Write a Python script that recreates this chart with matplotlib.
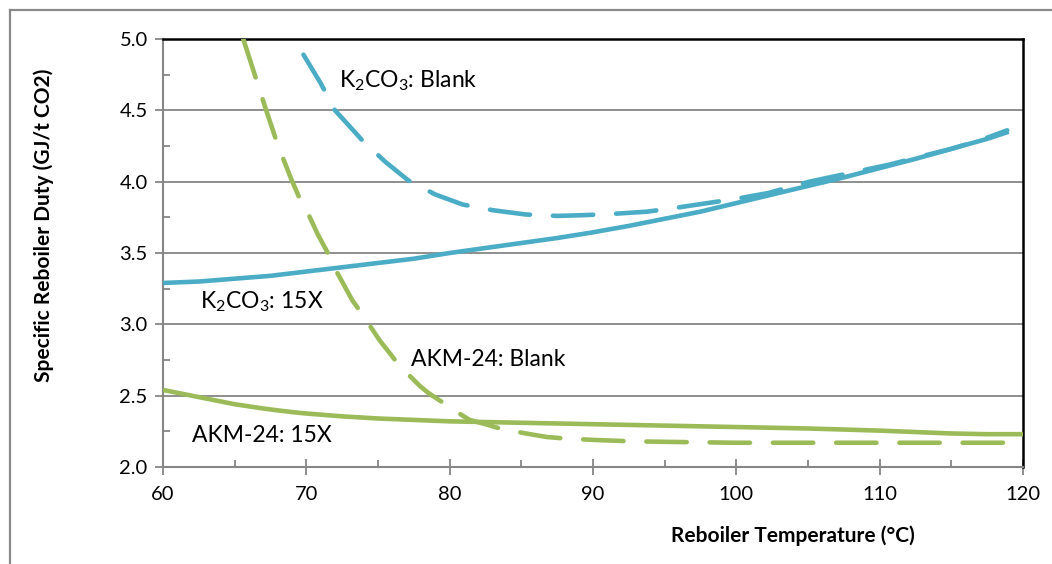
import numpy as np
import matplotlib
matplotlib.use('Agg')
import matplotlib.pyplot as plt
from matplotlib.lines import Line2D

plt.rcParams['font.family'] = ['Lato', 'DejaVu Sans']
plt.rcParams['mathtext.fontset'] = 'custom'
plt.rcParams['mathtext.rm'] = 'Lato'
plt.rcParams['mathtext.it'] = 'Lato:italic'
plt.rcParams['mathtext.bf'] = 'Lato:bold'

# Data
k2co3_15x_t = [60, 62.5, 65, 67.5, 70, 72.5, 75, 77.5, 80, 82.5, 85, 87.5, 90, 92.5, 95, 97.5, 100, 102.5, 105, 107.5, 110, 112.5, 115, 117.5, 119]
k2co3_15x_q = [3.29, 3.30, 3.32, 3.34, 3.37, 3.40, 3.43, 3.46, 3.50, 3.535, 3.57, 3.605, 3.645, 3.69, 3.74, 3.79, 3.85, 3.91, 3.97, 4.03, 4.095, 4.16, 4.23, 4.30, 4.35]

k2co3_blank_t = [69.8, 71.0, 72.0, 73.0, 73.9, 75.5, 77.1, 79.0, 80.9, 83.0, 85.3, 87.5, 89.3, 91.5, 93.8, 96.0, 98.0, 100.0, 102.2, 105.1, 107.9, 110.7, 113.0, 115.0, 117.0, 118.9]
k2co3_blank_q = [4.89, 4.69, 4.50, 4.39, 4.29, 4.14, 4.01, 3.91, 3.84, 3.80, 3.77, 3.76, 3.765, 3.775, 3.79, 3.82, 3.85, 3.88, 3.92, 4.00, 4.06, 4.12, 4.18, 4.23, 4.29, 4.36]

akm_15x_t = [60, 61, 62, 63, 64, 65, 66, 67, 68, 69, 70, 72.5, 75, 77.5, 80, 85, 90, 95, 100, 105, 110, 112.5, 115, 117.5, 120]
akm_15x_q = [2.54, 2.52, 2.50, 2.48, 2.46, 2.44, 2.425, 2.41, 2.397, 2.385, 2.375, 2.355, 2.34, 2.33, 2.32, 2.31, 2.30, 2.29, 2.28, 2.27, 2.255, 2.245, 2.235, 2.23, 2.23]

akm_blank_t = [65.6, 66.4, 67.2, 68.0, 68.9, 69.5, 70.2, 70.8, 71.5, 72.0, 72.6, 73.2, 73.9, 74.5, 75.1, 75.8, 76.5, 77.2, 77.9, 78.5, 79.1, 79.7, 80.3, 80.9, 81.4, 82.5, 83.5, 84.5, 85.6, 86.8, 88.0, 90.0, 92.7, 96.0, 100, 110, 120]
akm_blank_q = [5.00, 4.75, 4.50, 4.26, 4.03, 3.89, 3.76, 3.63, 3.50, 3.39, 3.28, 3.17, 3.07, 2.98, 2.89, 2.80, 2.71, 2.64, 2.57, 2.52, 2.48, 2.44, 2.40, 2.36, 2.33, 2.30, 2.27, 2.25, 2.23, 2.21, 2.20, 2.19, 2.18, 2.175, 2.17, 2.17, 2.17]

blue = '#4BACC6'
green = '#9BBB59'
grid_gray = '#868686'

fig = plt.figure(figsize=(10.52, 5.64), dpi=100)
ax = fig.add_axes([163/1052, 1 - 467/564, 860/1052, 428/564])

lw = 3.3
dash = (0, (8.8, 5.0))
ax.plot(k2co3_15x_t, k2co3_15x_q, color=blue, lw=lw, solid_capstyle='butt', solid_joinstyle='round', zorder=3)
ax.plot(k2co3_blank_t, k2co3_blank_q, color=blue, lw=lw, linestyle=dash, dash_capstyle='round', dash_joinstyle='round', zorder=3)
ax.plot(akm_15x_t, akm_15x_q, color=green, lw=lw, solid_capstyle='butt', solid_joinstyle='round', zorder=3)
ax.plot(akm_blank_t, akm_blank_q, color=green, lw=lw, linestyle=dash, dash_capstyle='round', dash_joinstyle='round', zorder=3)

ax.set_xlim(60, 120)
ax.set_ylim(2.0, 5.0)
ax.set_xticks(np.arange(60, 121, 10))
ax.set_xticks(np.arange(65, 120, 10), minor=True)
ax.set_yticks(np.arange(2.0, 5.01, 0.5))
ax.set_yticks(np.arange(2.25, 5.0, 0.5), minor=True)
ax.set_yticklabels([f'{v:.1f}' for v in np.arange(2.0, 5.01, 0.5)])

ax.grid(axis='y', which='major', color=grid_gray, lw=1.3, zorder=1)
ax.set_axisbelow(True)

for s in ['left', 'bottom']:
    ax.spines[s].set_color(grid_gray)
    ax.spines[s].set_linewidth(1.5)
for s in ['top', 'right']:
    ax.spines[s].set_color('black')
    ax.spines[s].set_linewidth(1.8)

ax.tick_params(axis='y', which='major', direction='out', length=6, width=1.3, color=grid_gray, labelsize=14.5, pad=5)
ax.tick_params(axis='y', which='minor', direction='in', length=5, width=1.3, color=grid_gray)
ax.tick_params(axis='x', which='major', direction='inout', length=12, width=1.3, color=grid_gray, labelsize=14.5, pad=8)
ax.tick_params(axis='x', which='minor', direction='in', length=5, width=1.3, color=grid_gray)

ax.set_xlabel('Reboiler Temperature (°C)', fontsize=15, fontweight='bold')
ax.xaxis.set_label_coords(0.732, -0.136)
ax.set_ylabel('Specific Reboiler Duty (GJ/t CO2)', fontsize=15, fontweight='bold')
ax.yaxis.set_label_coords(-0.127, 0.565)

# Series labels
ax.text(72.3, 4.71, r'K$_2$CO$_3$: Blank', fontsize=16.5, va='center', ha='left')
ax.text(62.6, 3.16, r'K$_2$CO$_3$: 15X', fontsize=16.5, va='center', ha='left')
ax.text(77.3, 2.75, 'AKM-24: Blank', fontsize=16.5, va='center', ha='left')
ax.text(62.0, 2.22, 'AKM-24: 15X', fontsize=16.5, va='center', ha='left')

# Chart frame
fig.add_artist(Line2D([10/1052, 10/1052], [1 - 10/564, 0], color='#898989', lw=1.6, transform=fig.transFigure))
fig.add_artist(Line2D([10/1052, 1], [1 - 10/564, 1 - 10/564], color='#898989', lw=1.6, transform=fig.transFigure))

fig.savefig('out.png', dpi=100)
